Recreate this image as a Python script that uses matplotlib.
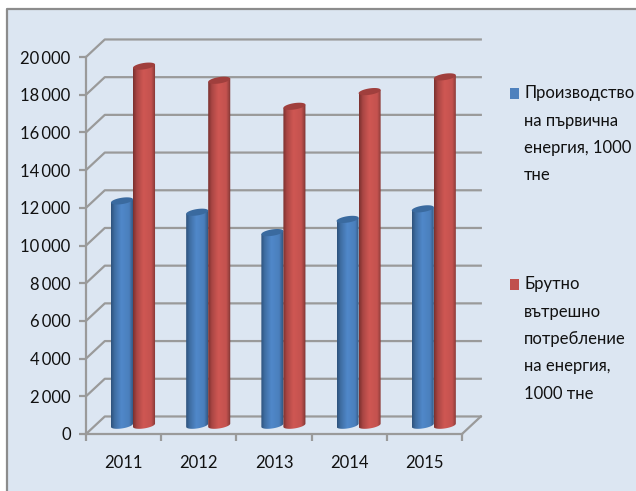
import numpy as np
import matplotlib
matplotlib.use("Agg")
import matplotlib.pyplot as plt
from matplotlib.colors import LinearSegmentedColormap
from matplotlib.patches import Polygon, PathPatch, Rectangle
from matplotlib.path import Path
from matplotlib.ticker import FuncFormatter

years = ["2011", "2012", "2013", "2014", "2015"]
production = [11900, 11300, 10220, 10920, 11480]
consumption = [19050, 18300, 16920, 17700, 18480]
legend_production = ["Производство", "на първична", "енергия, 1000", "тне"]
legend_consumption = ["Брутно", "вътрешно", "потребление", "на енергия,", "1000 тне"]

plt.rcParams["font.family"] = ["Lato", "Noto Sans", "DejaVu Sans"]

W, H = 636, 491
BG = "#dce6f2"
GRID = "#9a9a9a"
TEXT = "#111111"
FS = 12

fig = plt.figure(figsize=(W / 100, H / 100), dpi=100, facecolor="white")
# light panel with a grey edge on top and left only
fig.add_artist(Rectangle((6 / W, 0), 1, 1 - 8 / H, fc=BG, ec="none", transform=fig.transFigure, zorder=-2))
fig.add_artist(plt.Line2D([6.5 / W, 6.5 / W, 1], [0, 1 - 8.5 / H, 1 - 8.5 / H], color="#8c8c8c", lw=1.6, zorder=-1))

ax = fig.add_axes([86 / W, 1 - 434 / H, 376 / W, 377 / H])
ax.patch.set_visible(False)

# depth of the fake 3d box, data units
depth_x, depth_y = 0.25, 930
bar_w = 0.293
ell_h = 340
tilt = 170

blues = LinearSegmentedColormap.from_list(
    "b", [(0, "#2e527c"), (0.16, "#3f6ea3"), (0.45, "#5088ca"), (0.8, "#4a7fbc"), (0.93, "#38608f"), (1, "#2e527c")])
reds = LinearSegmentedColormap.from_list(
    "r", [(0, "#7a302e"), (0.16, "#a94644"), (0.45, "#cf5753"), (0.8, "#c4524f"), (0.93, "#97403d"), (1, "#74302e")])
grad = np.linspace(0, 1, 64).reshape(1, -1)


def cylinder(xc, value, cmap, top_color):
    x0, x1 = xc - bar_w / 2, xc + bar_w / 2
    y0 = depth_y / 2
    y1 = value + depth_y / 2
    t = np.linspace(np.pi, 2 * np.pi, 30)
    arc_x = np.cos(t)
    arc_y = y0 + ell_h / 2 * np.sin(t) + tilt / 2 * arc_x
    vx = np.r_[xc + bar_w / 2 * arc_x, x1, x0]
    vy = np.r_[arc_y, y1 + tilt / 2, y1 - tilt / 2]
    im = ax.imshow(grad, cmap=cmap, extent=[x0, x1, y0 - ell_h, y1 + ell_h], aspect="auto", zorder=3, interpolation="bilinear")
    clip = PathPatch(Path(np.r_[np.c_[vx, vy], [[vx[0], vy[0]]]]), transform=ax.transData, fc="none", ec="none")
    ax.add_patch(clip)
    im.set_clip_path(clip)
    # tilted top cap
    t = np.linspace(0, 2 * np.pi, 60)
    cap_y = y1 + ell_h / 2 * np.sin(t) + tilt / 2 * np.cos(t)
    ax.add_patch(Polygon(np.c_[xc + bar_w / 2 * np.cos(t), cap_y], fc=top_color, ec="none", zorder=3))


ticks = np.arange(0, 20001, 2000)
n = len(years)

# back wall and side wall grid
for v in ticks:
    ax.plot([0, depth_x, n + depth_x], [v, v + depth_y, v + depth_y], color=GRID, lw=1.6, zorder=1, clip_on=False)
# floor
ax.plot([n, n + depth_x], [0, depth_y], color=GRID, lw=1.6, zorder=1, clip_on=False)

for i in range(n):
    xc = i + 0.5 + depth_x / 2
    cylinder(xc - bar_w / 2, production[i], blues, "#3a6a9f")
    cylinder(xc + bar_w / 2, consumption[i], reds, "#a03f3d")

ax.set_xlim(0, n)
ax.set_ylim(0, 20000)
ax.set_yticks(ticks)
ax.yaxis.set_major_formatter(FuncFormatter(lambda v, p: f"{int(v):,}".replace(",", "\u2009")))
ax.set_xticks(np.arange(n + 1))
ax.set_xticklabels([])
ax.set_xticks(np.arange(n) + 0.5, labels=years, minor=True)
ax.tick_params(axis="x", which="minor", length=0, pad=15, labelsize=FS, labelcolor=TEXT)
ax.tick_params(axis="x", which="major", length=5, width=1.6, color=GRID)
ax.tick_params(axis="y", length=5, width=1.6, color=GRID, labelsize=FS, labelcolor=TEXT, pad=6)
for s in ["top", "right"]:
    ax.spines[s].set_visible(False)
for s in ["left", "bottom"]:
    ax.spines[s].set_color(GRID)
    ax.spines[s].set_linewidth(1.6)


def legend_block(lines, color, top):
    fig.add_artist(Rectangle((510 / W, 1 - (top + 6) / H), 9 / W, 11 / H, fc=color, ec="none", transform=fig.transFigure))
    for i, line in enumerate(lines):
        fig.text(524 / W, 1 - (top + i * 27.5) / H, line, fontsize=FS, color=TEXT, va="center", ha="left")


legend_block(legend_production, "#4f81bd", 93)
legend_block(legend_consumption, "#c0504d", 284)

fig.savefig("out.png", dpi=100, facecolor="white")
